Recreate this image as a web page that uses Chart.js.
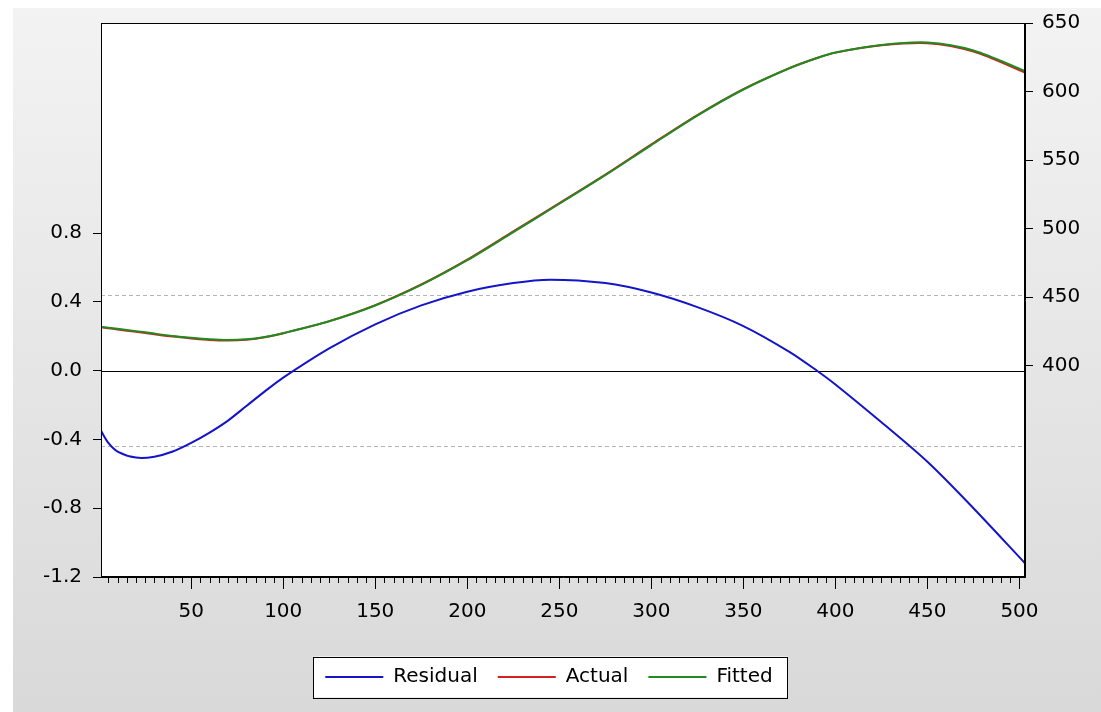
<!DOCTYPE html>
<html>
<head>
<meta charset="utf-8">
<title>Residual / Actual / Fitted</title>
<script src="https://cdn.jsdelivr.net/npm/chart.js@4.4.1/dist/chart.umd.min.js"></script>
<style>
  html, body { margin: 0; padding: 0; background: #fff; }
  #wrap { width: 1101px; height: 712px; }
</style>
</head>
<body>
<div id="wrap"><canvas id="residChart" width="1101" height="712"></canvas></div>
<script>
// observation numbers where the curves were read
const obs = [1, 5, 10, 20, 30, 40, 50, 60, 70, 80, 90, 100, 125, 150, 175, 200,
             225, 245, 275, 300, 325, 350, 375, 390, 400, 425, 450, 475, 503];

// residual (left axis)
const residual = [-0.35, -0.42, -0.47, -0.505, -0.50, -0.47, -0.42, -0.36, -0.29, -0.205,
                  -0.12, -0.04, 0.13, 0.27, 0.38, 0.46, 0.51, 0.53, 0.51, 0.455,
                  0.37, 0.26, 0.11, 0.00, -0.08, -0.30, -0.53, -0.80, -1.12];

// actual and fitted (right axis)
const actual = [428.1, 427.4, 426.5, 424.8, 423.0, 421.3, 420.0, 418.9, 418.5, 419.1,
                420.9, 423.8, 432.6, 444.3, 459.4, 477.5, 498.0, 514.5, 539.5, 561.5,
                582.9, 601.8, 617.1, 624.5, 628.4, 633.7, 635.3, 629.2, 613.9];
const fitted = [428.4, 427.8, 427.0, 425.3, 423.5, 421.8, 420.4, 419.3, 418.8, 419.3,
                421.0, 423.8, 432.5, 444.0, 459.0, 477.0, 497.5, 514.0, 539.0, 561.0,
                582.5, 601.5, 617.0, 624.5, 628.5, 634.0, 635.8, 630.0, 615.0];

// tick labels
const xTicks = [50, 100, 150, 200, 250, 300, 350, 400, 450, 500];
const leftTicks = [-1.2, -0.8, -0.4, 0.0, 0.4, 0.8];
const rightTicks = [400, 450, 500, 550, 600, 650];

// +/- one standard error band of the residual
const residSE = 0.44;

const FONT = { family: '"DejaVu Sans", "Liberation Sans", Arial, sans-serif', size: 20 };

const toPoints = (vals) => obs.map((x, i) => ({ x: x, y: vals[i] }));

// background, plot frame, legend box, zero line, S.E. band, minor ticks
const evPlugin = {
    id: 'evDecor',
    beforeDraw(chart) {
        const { ctx, chartArea: a, width, height } = chart;
        ctx.save();
        ctx.fillStyle = '#ffffff';
        ctx.fillRect(0, 0, width, height);
        const g = ctx.createLinearGradient(0, 8, 0, height);
        g.addColorStop(0, '#f3f3f3');
        g.addColorStop(1, '#d9d9d9');
        ctx.fillStyle = g;
        ctx.fillRect(13, 8, width - 13, height - 8);
        ctx.fillStyle = '#ffffff';
        ctx.fillRect(a.left, a.top, a.right - a.left, a.bottom - a.top);

        // legend frame
        const hb = chart.legend.legendHitBoxes;
        if (hb && hb.length) {
            const first = hb[0], last = hb[hb.length - 1];
            const l = first.left - 12, r = last.left + last.width + 15;
            const t = first.top - 10.5, h = first.height + 21;
            ctx.fillStyle = '#ffffff';
            ctx.fillRect(l, t, r - l, h);
            ctx.strokeStyle = '#000';
            ctx.lineWidth = 1;
            ctx.strokeRect(Math.round(l) + 0.5, Math.round(t) + 0.5, Math.round(r - l), Math.round(h));
        }
        ctx.restore();
    },
    beforeDatasetsDraw(chart) {
        const { ctx, chartArea: a } = chart;
        const y = chart.scales.y;
        ctx.save();
        ctx.lineWidth = 1;
        ctx.strokeStyle = '#b4b4b4';
        ctx.setLineDash([4, 3]);
        [residSE, -residSE].forEach(v => {
            const py = Math.round(y.getPixelForValue(v)) + 0.5;
            ctx.beginPath();
            ctx.moveTo(a.left, py);
            ctx.lineTo(a.right, py);
            ctx.stroke();
        });
        ctx.setLineDash([]);
        ctx.strokeStyle = '#000';
        const z = Math.round(y.getPixelForValue(0)) + 0.5;
        ctx.beginPath();
        ctx.moveTo(a.left, z);
        ctx.lineTo(a.right, z);
        ctx.stroke();
        ctx.restore();
    },
    afterDraw(chart) {
        const { ctx, chartArea: a } = chart;
        const x = chart.scales.x;
        ctx.save();
        ctx.strokeStyle = '#000';
        ctx.lineWidth = 1;
        ctx.strokeRect(Math.round(a.left) + 0.5, Math.round(a.top) + 0.5,
                       Math.round(a.right - a.left) - 1, Math.round(a.bottom - a.top) - 1);
        // minor ticks every 5 observations
        ctx.beginPath();
        for (let v = 5; v <= 500; v += 5) {
            if (v % 50 === 0) continue;
            const px = Math.round(x.getPixelForValue(v)) + 0.5;
            ctx.moveTo(px, a.bottom);
            ctx.lineTo(px, a.bottom + 6);
        }
        ctx.stroke();
        ctx.restore();
    }
};

const canvas = document.getElementById('residChart');

new Chart(canvas, {
    type: 'line',
    data: {
        datasets: [
            {
                label: 'Residual',
                data: toPoints(residual),
                yAxisID: 'y',
                borderColor: '#1414c8',
                backgroundColor: '#1414c8',
                borderWidth: 2,
                order: 2
            },
            {
                label: 'Actual',
                data: toPoints(actual),
                yAxisID: 'y1',
                borderColor: '#d42020',
                backgroundColor: '#d42020',
                borderWidth: 2,
                order: 1
            },
            {
                label: 'Fitted',
                data: toPoints(fitted),
                yAxisID: 'y1',
                borderColor: '#218a21',
                backgroundColor: '#218a21',
                borderWidth: 2,
                order: 0
            }
        ]
    },
    options: {
        responsive: false,
        animation: false,
        devicePixelRatio: 1,
        layout: { padding: { left: 10, right: 13, top: 21, bottom: 15 } },
        elements: {
            point: { radius: 0, hoverRadius: 0 },
            line: { tension: 0.3 }
        },
        plugins: {
            tooltip: { enabled: false },
            legend: {
                position: 'bottom',
                labels: {
                    usePointStyle: true,
                    pointStyle: 'line',
                    pointStyleWidth: 58,
                    padding: 20,
                    color: '#000',
                    font: FONT,
                    sort: (a, b) => a.datasetIndex - b.datasetIndex
                }
            }
        },
        scales: {
            x: {
                type: 'linear',
                min: 1,
                max: 503,
                afterBuildTicks: (s) => { s.ticks = xTicks.map(v => ({ value: v })); },
                afterFit: (s) => { s.height = 70; },
                grid: { drawOnChartArea: false, tickLength: 12, color: '#000', tickColor: '#000' },
                border: { color: '#000' },
                ticks: { color: '#000', font: FONT, padding: 11, maxRotation: 0, autoSkip: false }
            },
            y: {
                position: 'left',
                min: -1.2,
                max: 2.023,
                afterBuildTicks: (s) => { s.ticks = leftTicks.map(v => ({ value: v })); },
                afterFit: (s) => { s.width = 91; },
                grid: { drawOnChartArea: false, tickLength: 8, color: '#000', tickColor: '#000' },
                border: { color: '#000' },
                ticks: { color: '#000', font: FONT, padding: 11, callback: (v) => v.toFixed(1) }
            },
            y1: {
                position: 'right',
                min: 246,
                max: 650,
                afterBuildTicks: (s) => { s.ticks = rightTicks.map(v => ({ value: v })); },
                afterFit: (s) => { s.width = 63; },
                grid: { drawOnChartArea: false, tickLength: 8, color: '#000', tickColor: '#000' },
                border: { color: '#000' },
                ticks: { color: '#000', font: FONT, padding: 9 }
            }
        }
    },
    plugins: [evPlugin]
});
</script>
</body>
</html>
